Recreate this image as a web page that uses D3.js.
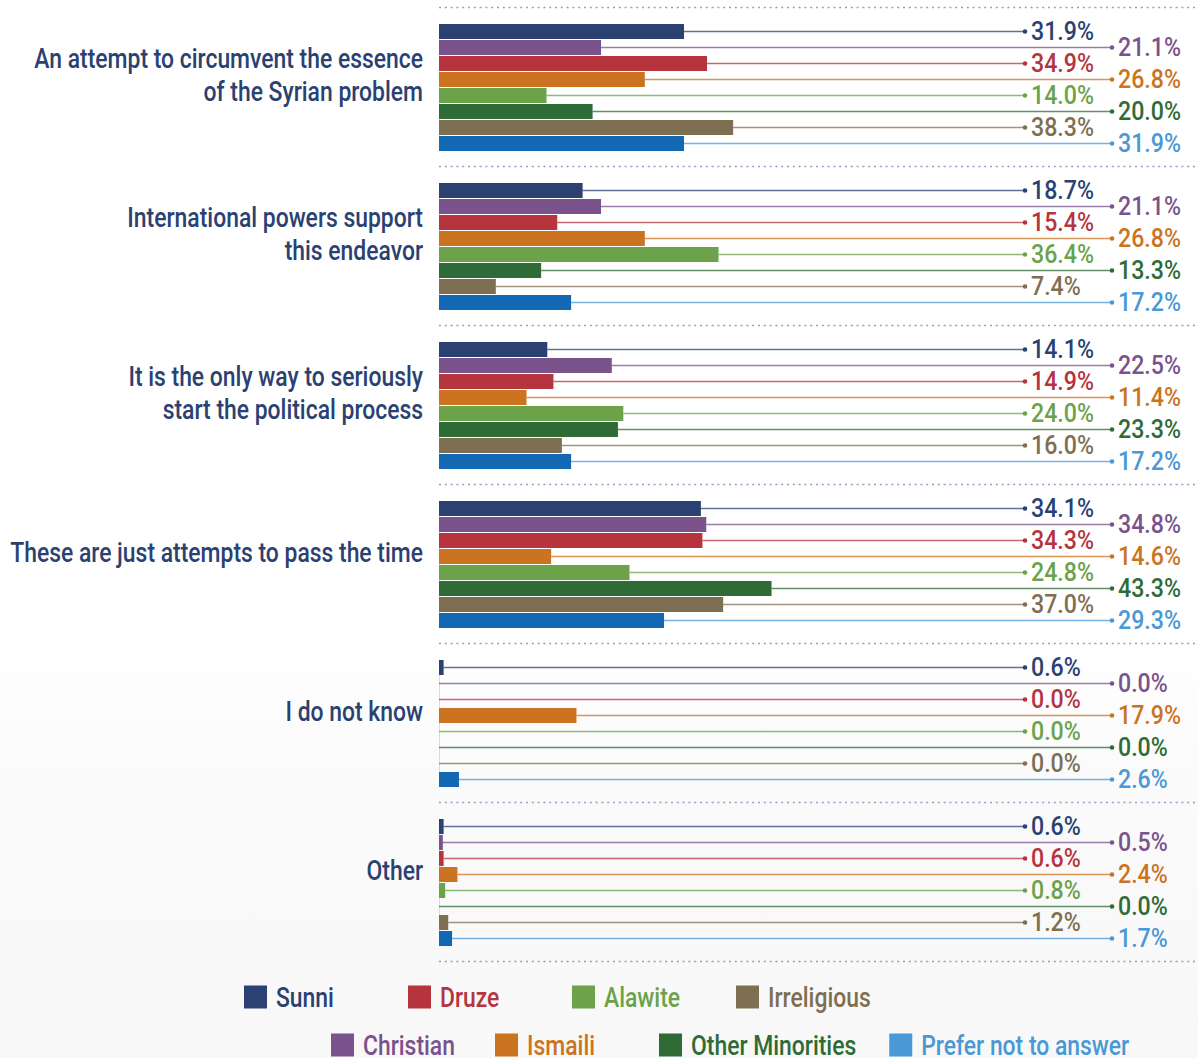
<!DOCTYPE html>
<html>
<head>
<meta charset="utf-8">
<script src="https://cdn.jsdelivr.net/npm/d3@7"></script>
<style>
  html, body { margin: 0; padding: 0; background: #fff; }
  svg { display: block; }
  text { font-family: "Roboto", "Liberation Sans", sans-serif; font-weight: 500; }
</style>
</head>
<body>
<svg id="chart" width="1198" height="1058"></svg>
<script>
// Answers to the question, grouped by response
const categories = [
  ["An attempt to circumvent the essence", "of the Syrian problem"],
  ["International powers support", "this endeavor"],
  ["It is the only way to seriously", "start the political process"],
  ["These are just attempts to pass the time"],
  ["I do not know"],
  ["Other"]
];

const seriesNames = ["Sunni", "Christian", "Druze", "Ismaili", "Alawite", "Other Minorities", "Irreligious", "Prefer not to answer"];

// Percent of each group giving each answer (rows follow categories)
const sunni      = [31.9, 18.7, 14.1, 34.1, 0.6, 0.6];
const christian  = [21.1, 21.1, 22.5, 34.8, 0.0, 0.5];
const druze      = [34.9, 15.4, 14.9, 34.3, 0.0, 0.6];
const ismaili    = [26.8, 26.8, 11.4, 14.6, 17.9, 2.4];
const alawite    = [14.0, 36.4, 24.0, 24.8, 0.0, 0.8];
const otherMin   = [20.0, 13.3, 23.3, 43.3, 0.0, 0.0];
const irreligious= [38.3, 7.4, 16.0, 37.0, 0.0, 1.2];
const preferNot  = [31.9, 17.2, 17.2, 29.3, 2.6, 1.7];

const seriesValues = [sunni, christian, druze, ismaili, alawite, otherMin, irreligious, preferNot];

const barColors   = ["#2a4172", "#7a528c", "#b5343d", "#cc7322", "#6ca24a", "#2f6b36", "#7f6f52", "#1368b3"];
const labelColors = ["#2a4172", "#7a528c", "#b5343d", "#cc7322", "#6ca24a", "#2f6b36", "#7f6f52", "#4a98d5"];

// Legend order, two rows
const legendRows = [[0, 2, 4, 6], [1, 3, 5, 7]];

const svg = d3.select("#chart");
const W = 1198, H = 1058;
const FS_CAT = 27.5;   // category and legend text
const FS_VAL = 25;     // value labels

// condensed look: measure sample strings and squeeze text horizontally to suit
function measure(str, fs) {
  const p = svg.append("text").attr("font-size", fs).text(str);
  const w = p.node().getComputedTextLength();
  p.remove();
  return w;
}
const squeezeCat = 413 / measure("These are just attempts to pass the time", FS_CAT);
const squeezeVal = 63 / measure("31.9%", FS_VAL);

function label(parent, x, y, str, opts) {
  const k = opts.squeeze;
  const g = parent.append("g").attr("transform", `translate(${x},${y}) scale(${k},1)`);
  const t = g.append("text")
    .attr("dy", "0.36em")
    .attr("font-size", opts.size)
    .attr("fill", opts.fill)
    .attr("text-anchor", opts.anchor || "start")
    .text(str);
  return { g, t, width: t.node().getComputedTextLength() * k };
}

// soft background shading
const defs = svg.append("defs");
const grad = defs.append("linearGradient").attr("id", "bg").attr("x1", 0).attr("y1", 0).attr("x2", 0).attr("y2", 1);
grad.append("stop").attr("offset", "0%").attr("stop-color", "#ffffff");
grad.append("stop").attr("offset", "60%").attr("stop-color", "#ffffff");
grad.append("stop").attr("offset", "75%").attr("stop-color", "#fafafa");
grad.append("stop").attr("offset", "100%").attr("stop-color", "#f8f8f8");
svg.append("rect").attr("width", W).attr("height", H).attr("fill", "url(#bg)");

const x0 = 439;
const x = d3.scaleLinear().domain([0, 50]).range([x0, x0 + 384]);

const groupStep = 159;
const firstSep = 7;
const yGroup = d3.scaleBand()
  .domain(d3.range(categories.length))
  .range([firstSep, firstSep + groupStep * categories.length])
  .padding(0);

const yBar = d3.scaleBand()
  .domain(d3.range(seriesNames.length))
  .range([17, 17 + 16 * seriesNames.length])
  .padding(0);
const barH = 15;

// dotted separators
const seps = d3.range(categories.length + 1).map(i => firstSep + groupStep * i);
svg.append("g").selectAll("line").data(seps).join("line")
  .attr("x1", x0).attr("x2", W)
  .attr("y1", d => d + 0.5).attr("y2", d => d + 0.5)
  .attr("stroke", "#9a9ac4").attr("stroke-width", 1.5)
  .attr("stroke-dasharray", "2,3.8");

const labelX = [1025, 1112];

const groups = svg.append("g").selectAll("g.grp")
  .data(categories)
  .join("g").attr("class", "grp")
  .attr("transform", (d, i) => `translate(0,${yGroup(i)})`);

// faint zero line
groups.append("line")
  .attr("x1", x(0) + 0.5).attr("x2", x(0) + 0.5)
  .attr("y1", yBar(0)).attr("y2", yBar(seriesNames.length - 1) + barH)
  .attr("stroke", "#dcdcdc").attr("stroke-width", 1);

groups.each(function (cat, gi) {
  const g = d3.select(this);
  const rows = seriesValues.map((vals, si) => ({ si, v: vals[gi] }));

  // leader lines
  g.selectAll("line.lead").data(rows).join("line").attr("class", "lead")
    .attr("x1", d => x(d.v)).attr("x2", d => labelX[d.si % 2])
    .attr("y1", d => yBar(d.si) + barH / 2).attr("y2", d => yBar(d.si) + barH / 2)
    .attr("stroke", d => labelColors[d.si]).attr("stroke-opacity", 0.75)
    .attr("stroke-width", 1.5);

  g.selectAll("circle").data(rows).join("circle")
    .attr("cx", d => labelX[d.si % 2]).attr("cy", d => yBar(d.si) + barH / 2)
    .attr("r", 2.3).attr("fill", d => labelColors[d.si]);

  g.selectAll("rect.bar").data(rows).join("rect").attr("class", "bar")
    .attr("x", x(0)).attr("y", d => yBar(d.si))
    .attr("width", d => x(d.v) - x(0)).attr("height", barH)
    .attr("fill", d => barColors[d.si]);

  rows.forEach(d => {
    label(g, labelX[d.si % 2] + 6, yBar(d.si) + barH / 2 - 0.5, d.v.toFixed(1) + "%",
      { fill: labelColors[d.si], size: FS_VAL, squeeze: squeezeVal });
  });

  // category label
  const center = yBar(0) + 64 - 13;
  const lh = 33;
  cat.forEach((line, i) => {
    label(g, 423, center + (i - (cat.length - 1) / 2) * lh, line,
      { fill: "#2a4172", anchor: "end", size: FS_CAT, squeeze: squeezeCat });
  });
});

// legend
const legendRowX = [244, 331];
const legendRowY = [997, 1045];
const sq = 23;
legendRows.forEach((row, ri) => {
  let cx = legendRowX[ri];
  row.forEach(si => {
    svg.append("rect").attr("x", cx).attr("y", legendRowY[ri] - sq / 2)
      .attr("width", sq).attr("height", sq).attr("fill", labelColors[si]);
    const lab = label(svg, cx + sq + 9, legendRowY[ri], seriesNames[si],
      { fill: labelColors[si], size: FS_CAT, squeeze: squeezeCat });
    cx += Math.max(164, sq + 9 + lab.width + 33);
  });
});
</script>
</body>
</html>
